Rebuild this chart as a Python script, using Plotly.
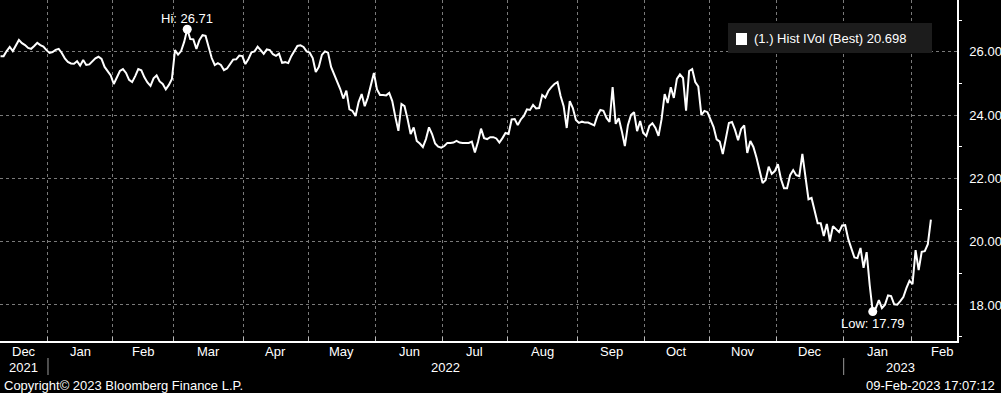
import numpy as np
import pandas as pd
import plotly.graph_objects as go

# ---------------- data: Hist IVol (Best), one value per weekday ----------------
START_DATE = "2021-12-10"
dec_2021 = [25.86, 25.86, 26.02, 26.15, 26.02, 26.20, 26.37, 26.27, 26.21, 26.12, 26.09, 26.18,
            26.28, 26.21, 26.16, 26.05]
jan_2022 = [25.96, 25.99, 26.06, 26.09, 25.96, 25.79, 25.68, 25.63, 25.62, 25.70, 25.56, 25.74,
            25.58, 25.60, 25.71, 25.79, 25.84, 25.77, 25.52, 25.37, 25.25]
feb_2022 = [24.98, 25.17, 25.39, 25.45, 25.33, 25.11, 25.04, 25.23, 25.45, 25.41, 25.19, 25.03,
            24.92, 25.16, 25.25, 25.06, 24.98, 24.81, 24.95, 25.14]
mar_2022 = [26.05, 25.91, 26.02, 26.31, 26.71, 26.40, 26.39, 26.09, 26.37, 26.52, 26.50, 26.15,
            25.80, 25.58, 25.64, 25.58, 25.42, 25.47, 25.61, 25.75, 25.76, 25.88, 25.86]
apr_2022 = [25.61, 25.77, 25.98, 26.01, 26.16, 26.05, 25.93, 26.07, 26.05, 25.92, 25.87, 25.94,
            25.65, 25.67, 25.64, 25.86, 26.04, 26.18, 26.20, 26.15, 26.01]
may_2022 = [25.97, 25.80, 25.36, 25.52, 25.90, 26.01, 25.97, 25.52, 25.30, 25.09, 24.82, 24.52,
            24.77, 24.18, 24.13, 23.97, 24.41, 24.66, 24.28, 24.55, 24.95, 25.33]
jun_2022 = [24.81, 24.63, 24.63, 24.62, 24.70, 24.44, 23.94, 23.50, 24.35, 24.28, 23.87, 23.40,
            23.61, 23.18, 23.10, 22.99, 23.24, 23.61, 23.40, 23.10, 23.00, 22.97]
jul_2022 = [23.02, 23.12, 23.12, 23.13, 23.18, 23.13, 23.12, 23.13, 23.12, 23.16, 22.82, 23.15,
            23.57, 23.27, 23.24, 23.30, 23.30, 23.26, 23.13, 23.27, 23.43]
aug_2022 = [23.40, 23.86, 23.87, 23.68, 23.86, 23.97, 24.18, 24.16, 24.32, 24.21, 24.22, 24.63,
            24.55, 24.76, 24.88, 24.98, 25.04, 24.60, 24.28, 23.59, 24.44, 24.22, 23.84]
sep_2022 = [23.75, 23.79, 23.76, 23.76, 23.72, 23.67, 23.97, 24.16, 24.13, 23.91, 23.78, 24.88,
            23.72, 23.90, 23.49, 23.02, 23.68, 24.00, 24.09, 23.49, 23.81, 23.43]
oct_2022 = [23.34, 23.65, 23.74, 23.59, 23.34, 23.87, 24.66, 24.38, 24.88, 24.54, 25.14, 25.28,
            25.17, 24.14, 25.39, 25.45, 25.04, 24.90, 24.00, 24.13, 24.09]
nov_2022 = [23.84, 23.62, 23.23, 23.16, 22.77, 23.21, 23.75, 23.78, 23.53, 23.20, 23.56, 23.67,
            22.80, 23.18, 22.99, 22.66, 22.29, 21.85, 21.95, 22.37, 22.14, 22.23]
dec_2022 = [22.45, 21.98, 21.69, 21.69, 22.10, 22.26, 22.10, 22.07, 22.77, 22.07, 21.34, 21.38,
            20.93, 20.58, 20.58, 20.18, 20.56, 20.02, 20.49, 20.41, 20.30, 20.51]
jan_2023 = [20.52, 20.08, 19.77, 19.50, 19.48, 19.80, 19.17, 19.67, 18.63, 17.79, 17.90, 18.15,
            17.90, 18.01, 18.30, 18.28, 18.02, 18.01, 18.12, 18.25, 18.53, 18.76]
feb_2023 = [18.66, 19.73, 19.10, 19.68, 19.70, 19.92, 20.698]

SERIES_NAME = "(1.) Hist IVol (Best)"
Y_TICKS = [18, 20, 22, 24, 26]
Y_TICK_TEXT = ["18.00", "20.00", "22.00", "24.00", "26.00"]
Y_MINOR = [17, 19, 21, 23, 25, 27]
COPYRIGHT = "Copyright\u00a9 2023 Bloomberg Finance L.P."
STAMP = "09-Feb-2023 17:07:12"

# ---------------- build ----------------
values = (dec_2021 + jan_2022 + feb_2022 + mar_2022 + apr_2022 + may_2022 + jun_2022 + jul_2022 +
          aug_2022 + sep_2022 + oct_2022 + nov_2022 + dec_2022 + jan_2023 + feb_2023)
values = np.array(values)
dates = pd.bdate_range(START_DATE, periods=len(values))
REF = np.datetime64("2021-12-01")
xi = np.busday_count(REF, dates.values.astype("datetime64[D]")) + 0.5

month_starts = pd.date_range("2021-12-01", "2023-03-01", freq="MS")
mb = np.busday_count(REF, month_starts.values.astype("datetime64[D]"))

X_RANGE = [7.32, 320.03]
Y_RANGE = [16.862, 27.633]
PLOT_W = 957
PLOT_H = 341

FONT = "Liberation Sans"
WHITE = "#ffffff"
GRID = "#7a7a7a"

fig = go.Figure()
fig.add_trace(go.Scatter(x=xi, y=values, mode="lines", line=dict(color=WHITE, width=2),
                         hoverinfo="skip"))

imax = int(np.argmax(values))
imin = int(np.argmin(values))
fig.add_trace(go.Scatter(x=[xi[imax], xi[imin]], y=[values[imax], values[imin]], mode="markers",
                         marker=dict(color=WHITE, size=9), cliponaxis=False, hoverinfo="skip"))

# triangles on the right axis at major ticks
fig.add_trace(go.Scatter(x=[1 + 3.5 / PLOT_W] * len(Y_TICKS), y=Y_TICKS, xaxis="x2", mode="markers",
                         marker=dict(symbol="triangle-right", size=8, color=WHITE),
                         cliponaxis=False, hoverinfo="skip"))

tickvals = [float(b) for b in mb if X_RANGE[0] < b < X_RANGE[1]]

annotations = []
# month labels
for i in range(len(month_starts) - 1):
    s, e = mb[i], mb[i + 1]
    if e <= X_RANGE[0] or s >= X_RANGE[1]:
        continue
    c = (X_RANGE[0] + e) / 2 if s < X_RANGE[0] else (s + e) / 2
    annotations.append(dict(x=c, y=0, xref="x", yref="paper", text=month_starts[i].strftime("%b"),
                            showarrow=False, yanchor="middle", yshift=-10,
                            font=dict(family=FONT, size=13, color=WHITE)))
# year labels and separators
shapes = []
for yr in [2021, 2022, 2023]:
    s = np.busday_count(REF, np.datetime64(f"{yr}-01-01"))
    e = np.busday_count(REF, np.datetime64(f"{yr + 1}-01-01"))
    s2, e2 = max(s, X_RANGE[0]), min(e, X_RANGE[1])
    annotations.append(dict(x=(s2 + e2) / 2, y=0, xref="x", yref="paper", text=str(yr),
                            showarrow=False, yanchor="middle", yshift=-26,
                            font=dict(family=FONT, size=13, color=WHITE)))
    if X_RANGE[0] < s < X_RANGE[1]:
        shapes.append(dict(type="line", xref="x", yref="paper", x0=s, x1=s,
                           y0=-17 / PLOT_H, y1=-34 / PLOT_H, line=dict(color="#9a9a9a", width=1)))

# Hi / Low labels
annotations.append(dict(x=xi[imax], y=values[imax], xref="x", yref="y", text=f"Hi: {values[imax]:.2f}",
                        showarrow=False, yanchor="middle", yshift=11,
                        font=dict(family=FONT, size=13, color=WHITE)))
annotations.append(dict(x=xi[imin], y=values[imin], xref="x", yref="y", text=f"Low: {values[imin]:.2f}",
                        showarrow=False, yanchor="middle", yshift=-12,
                        font=dict(family=FONT, size=13, color=WHITE)))

# legend box
shapes.append(dict(type="rect", xref="paper", yref="paper", x0=728 / PLOT_W, x1=932 / PLOT_W,
                   y0=1 - 53 / PLOT_H, y1=1 - 23 / PLOT_H, fillcolor="#1c1c1c", line=dict(width=0)))
shapes.append(dict(type="rect", xref="paper", yref="paper", x0=736 / PLOT_W, x1=747 / PLOT_W,
                   y0=1 - 45 / PLOT_H, y1=1 - 33 / PLOT_H, fillcolor=WHITE, line=dict(width=0)))
annotations.append(dict(x=752 / PLOT_W, y=1 - 38.5 / PLOT_H, xref="paper", yref="paper",
                        text=f"{SERIES_NAME} {values[-1]:.3f}", showarrow=False,
                        xanchor="left", yanchor="middle",
                        font=dict(family=FONT, size=13, color=WHITE)))

# footer
annotations.append(dict(x=2 / PLOT_W, y=0, xref="paper", yref="paper", text=COPYRIGHT,
                        showarrow=False, xanchor="left", yanchor="middle", yshift=-44,
                        font=dict(family=FONT, size=13, color=WHITE)))
annotations.append(dict(x=997 / PLOT_W, y=0, xref="paper", yref="paper", text=STAMP,
                        showarrow=False, xanchor="right", yanchor="middle", yshift=-44,
                        font=dict(family=FONT, size=13, color=WHITE)))

fig.update_layout(
    width=1001, height=393,
    margin=dict(l=0, r=44, t=0, b=52),
    paper_bgcolor="black", plot_bgcolor="black",
    showlegend=False,
    font=dict(family=FONT, size=13, color=WHITE),
    xaxis=dict(range=X_RANGE, tickmode="array", tickvals=tickvals, showticklabels=False,
               ticks="inside", ticklen=4,
               tickcolor="#bbbbbb", showgrid=True, gridcolor=GRID, griddash="dot", gridwidth=1,
               showline=True, linecolor=WHITE, linewidth=1.5, zeroline=False, layer="below traces"),
    xaxis2=dict(overlaying="x", range=[0, 1], visible=False),
    yaxis=dict(side="right", range=Y_RANGE, tickmode="array", tickvals=Y_TICKS, ticktext=Y_TICK_TEXT,
               ticks="outside", ticklen=8, tickcolor="rgba(0,0,0,0)",
               minor=dict(tickvals=Y_MINOR, ticks="outside", ticklen=3, tickcolor=WHITE, showgrid=False),
               showgrid=True, gridcolor=GRID, griddash="dot", gridwidth=1,
               showline=True, linecolor=WHITE, linewidth=1.5, zeroline=False,
               tickfont=dict(family=FONT, size=13, color=WHITE)),
    annotations=annotations,
    shapes=shapes,
)

fig.write_html("out.html", config={"displayModeBar": False},
               post_script="document.body.style.margin='0';document.body.style.overflow='hidden';")
